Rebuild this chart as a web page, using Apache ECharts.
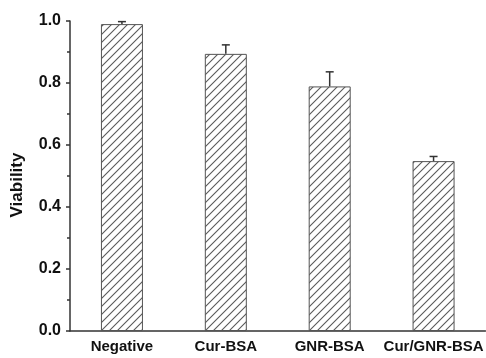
<!DOCTYPE html>
<html>
<head>
<meta charset="utf-8">
<script src="https://cdn.jsdelivr.net/npm/echarts@6/dist/echarts.min.js"></script>
<style>html,body{margin:0;padding:0;background:#fff}#c{width:486px;height:358px}</style>
</head>
<body>
<div id="c"></div>
<script>
var categories = ['Negative', 'Cur-BSA', 'GNR-BSA', 'Cur/GNR-BSA'];
var viability = [0.990, 0.894, 0.789, 0.548];
var errors = [0.008, 0.029, 0.047, 0.015];
var yTicks = [0, 0.2, 0.4, 0.6, 0.8, 1.0];

function hatch() {
  var c = document.createElement('canvas');
  c.width = 8; c.height = 8;
  var g = c.getContext('2d');
  g.fillStyle = '#fff'; g.fillRect(0, 0, 8, 8);
  g.strokeStyle = '#5a5a5a'; g.lineWidth = 1.1;
  g.beginPath();
  g.moveTo(-1, 9); g.lineTo(9, -1);
  g.moveTo(-1, 1); g.lineTo(1, -1);
  g.moveTo(7, 9); g.lineTo(9, 7);
  g.stroke();
  return c;
}

var chart = echarts.init(document.getElementById('c'), null, {renderer: 'canvas'});
var axisColor = '#333';
chart.setOption({
  animation: false,
  grid: {left: 70, top: 21, bottom: 27, width: 420},
  xAxis: {
    type: 'category',
    data: categories,
    axisLine: {lineStyle: {color: axisColor, width: 1.5}},
    axisTick: {alignWithLabel: true, length: 5, lineStyle: {color: axisColor, width: 1.5}},
    axisLabel: {color: '#111', fontFamily: 'Liberation Sans', fontWeight: 'bold', fontSize: 15, margin: 8, interval: 0}
  },
  yAxis: {
    type: 'value',
    min: 0, max: 1.0, interval: 0.2,
    name: 'Viability',
    nameLocation: 'middle',
    nameGap: 44,
    nameTextStyle: {color: '#111', fontFamily: 'Liberation Sans', fontWeight: 'bold', fontSize: 17, padding: [0, 18, 0, 0]},
    axisLine: {show: true, lineStyle: {color: axisColor, width: 1.5}},
    axisTick: {show: true, length: 4, lineStyle: {color: axisColor, width: 1.5}},
    minorTick: {show: true, splitNumber: 2, length: 3, lineStyle: {color: axisColor, width: 1.5}},
    splitLine: {show: false},
    axisLabel: {color: '#111', fontFamily: 'Liberation Sans', fontWeight: 'bold', fontSize: 16, margin: 9,
      formatter: function (v) { return v.toFixed(1); }}
  },
  series: [
    {
      type: 'bar',
      data: viability,
      barWidth: 42,
      itemStyle: {color: {image: hatch(), repeat: 'repeat'}, borderColor: '#555', borderWidth: 1}
    },
    {
      type: 'custom',
      data: viability.map(function (v, i) { return [i, v, errors[i]]; }),
      renderItem: function (params, api) {
        var i = api.value(0), v = api.value(1), e = api.value(2);
        var p0 = api.coord([i, v]);
        var p1 = api.coord([i, v + e]);
        var st = {stroke: '#333', lineWidth: 1.5};
        return {type: 'group', children: [
          {type: 'line', shape: {x1: p0[0], y1: p0[1], x2: p1[0], y2: p1[1]}, style: st},
          {type: 'line', shape: {x1: p1[0] - 4, y1: p1[1], x2: p1[0] + 4, y2: p1[1]}, style: st}
        ]};
      },
      z: 3
    }
  ]
});
</script>
</body>
</html>
